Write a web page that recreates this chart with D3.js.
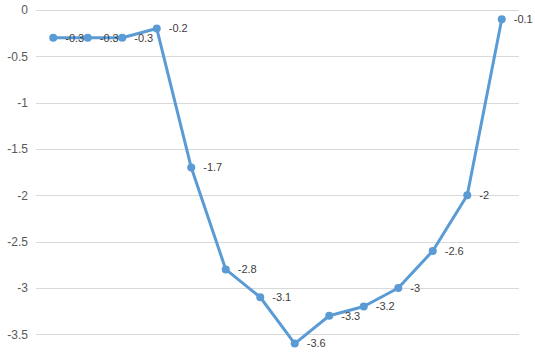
<!DOCTYPE html>
<html>
<head>
<meta charset="utf-8">
<script src="https://cdn.jsdelivr.net/npm/d3@7"></script>
<style>
  body { margin: 0; background: #fff; }
  svg { display: block; font-family: "Liberation Sans", Arial, sans-serif; }
</style>
</head>
<body>
<svg width="535" height="360"></svg>
<script>
const categories = ['1', '2', '3', '4', '5', '6', '7', '8', '9', '10', '11', '12', '13', '14'];
const values = [-0.3, -0.3, -0.3, -0.2, -1.7, -2.8, -3.1, -3.6, -3.3, -3.2, -3, -2.6, -2, -0.1];
const yTicks = [0, -0.5, -1, -1.5, -2, -2.5, -3, -3.5];

const svg = d3.select('svg');
const plotLeft = 36, plotRight = 519, plotTop = 10;

const xScale = d3.scaleBand().domain(categories).range([plotLeft, plotRight]);
const yScale = d3.scaleLinear().domain([0, -4]).range([plotTop, plotTop + 4 * 92.66]);

// grid lines
svg.append('g')
  .selectAll('line')
  .data(yTicks)
  .enter()
  .append('line')
  .attr('x1', plotLeft)
  .attr('x2', plotRight)
  .attr('y1', d => Math.round(yScale(d)) + 0.5)
  .attr('y2', d => Math.round(yScale(d)) + 0.5)
  .style('stroke', '#d9d9d9')
  .style('stroke-width', 1);

// y axis labels
const yAxis = d3.axisLeft(yScale).tickValues(yTicks).tickSize(0).tickPadding(8)
  .tickFormat(d => String(d));
svg.append('g')
  .attr('transform', `translate(${plotLeft},0)`)
  .call(yAxis)
  .call(g => g.select('.domain').remove())
  .call(g => g.selectAll('text').style('fill', '#595959').style('font-size', '12px')
    .style('font-family', '"Liberation Sans", Arial, sans-serif'));

const cx = (d, i) => xScale(categories[i]) + xScale.bandwidth() / 2;

const line = d3.line()
  .x((d, i) => cx(d, i))
  .y(d => yScale(d));

svg.append('path')
  .datum(values)
  .attr('d', line)
  .style('fill', 'none')
  .style('stroke', '#5b9bd5')
  .style('stroke-width', 3)
  .style('stroke-linejoin', 'round');

svg.selectAll('.dot')
  .data(values)
  .enter()
  .append('circle')
  .classed('dot', true)
  .attr('cx', cx)
  .attr('cy', d => yScale(d))
  .attr('r', 4)
  .style('fill', '#5b9bd5');

svg.selectAll('.lbl')
  .data(values)
  .enter()
  .append('text')
  .classed('lbl', true)
  .attr('x', (d, i) => cx(d, i) + 12)
  .attr('y', d => yScale(d))
  .attr('dy', '0.35em')
  .style('font-size', '11px')
  .style('fill', '#404040')
  .text(d => String(d));
</script>
</body>
</html>
